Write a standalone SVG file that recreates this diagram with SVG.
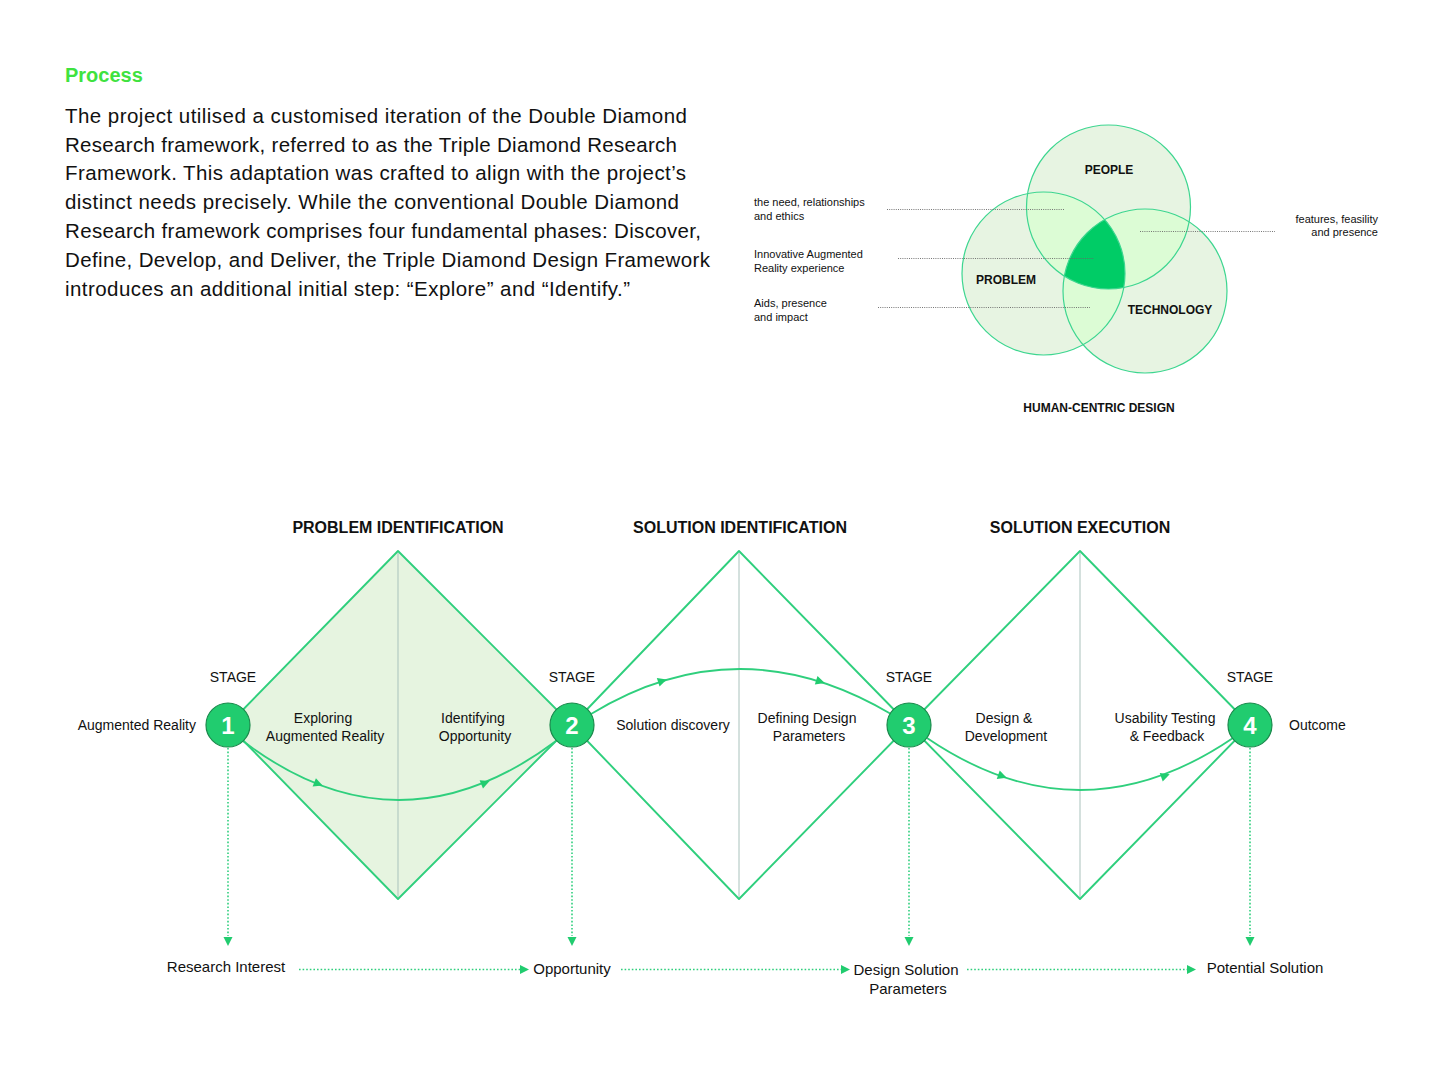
<svg xmlns="http://www.w3.org/2000/svg" width="1444" height="1083" viewBox="0 0 1444 1083">
<style>
text{font-family:"Liberation Sans",Arial,sans-serif;fill:#111;}
.body{font-size:20.5px;}
.lbl{font-size:14px;}
.hdr{font-size:16px;font-weight:bold;}
.vl{font-size:12px;font-weight:bold;}
.note{font-size:11px;}
.btm{font-size:15px;}
.num{font-size:24px;font-weight:bold;fill:#fff;}
.dia{fill:none;stroke:#2fcf7d;stroke-width:1.9;stroke-linejoin:round;}
.dia1{fill:#e6f4e0;}
.mid{stroke:#a9c2bc;stroke-width:1;}
.curve{fill:none;stroke:#2fcf7d;stroke-width:1.8;}
.stage{fill:#21cc6f;stroke:#1a8a4c;stroke-width:1.2;}
.dot{fill:none;stroke:#2fcf7d;stroke-width:1.6;stroke-dasharray:1.6 2;}
.lead{fill:none;stroke:#666;stroke-width:0.9;stroke-dasharray:1 1.2;}
.vring{fill:none;stroke:#3dd690;stroke-width:1.2;}
.head{fill:#21cc6f;}
</style>
<defs>
<path id="tri" d="M5,0 L-4,-4.5 L-4,4.5 Z"/>
<circle id="cA" cx="1108.5" cy="207" r="82"/>
<circle id="cB" cx="1043.5" cy="273.5" r="81.5"/>
<circle id="cC" cx="1145" cy="291" r="82"/>
<clipPath id="clA"><use href="#cA"/></clipPath>
<clipPath id="clB"><use href="#cB"/></clipPath>
<clipPath id="clC"><use href="#cC"/></clipPath>
</defs>
<rect width="1444" height="1083" fill="#fff"/>

<g id="intro">
<text x="65" y="82" style="font-size:20px;font-weight:bold;fill:#3fe23f">Process</text>
<text class="body" x="65" y="123" textLength="622">The project utilised a customised iteration of the Double Diamond</text>
<text class="body" x="65" y="152" textLength="612">Research framework, referred to as the Triple Diamond Research</text>
<text class="body" x="65" y="180" textLength="621">Framework. This adaptation was crafted to align with the project’s</text>
<text class="body" x="65" y="209" textLength="614">distinct needs precisely. While the conventional Double Diamond</text>
<text class="body" x="65" y="238" textLength="636">Research framework comprises four fundamental phases: Discover,</text>
<text class="body" x="65" y="267" textLength="645">Define, Develop, and Deliver, the Triple Diamond Design Framework</text>
<text class="body" x="65" y="296" textLength="565">introduces an additional initial step: “Explore” and “Identify.”</text>
</g>

<g id="venn">
<use href="#cA" fill="#e7f4e2"/>
<use href="#cB" fill="#e7f4e2"/>
<use href="#cC" fill="#e7f4e2"/>
<g clip-path="url(#clA)"><use href="#cB" fill="#dcfcd5"/><use href="#cC" fill="#dcfcd5"/></g>
<g clip-path="url(#clB)"><use href="#cC" fill="#dcfcd5"/></g>
<g clip-path="url(#clA)"><g clip-path="url(#clB)"><use href="#cC" fill="#00cc66"/></g></g>
<use href="#cA" class="vring"/>
<use href="#cB" class="vring"/>
<use href="#cC" class="vring"/>
<path class="lead" d="M887,209.5H1064M898,258.5H1094M878,307.5H1090M1140,231.5H1275"/>
<text class="vl" x="1109" y="174" text-anchor="middle">PEOPLE</text>
<text class="vl" x="1006" y="284" text-anchor="middle">PROBLEM</text>
<text class="vl" x="1170" y="314" text-anchor="middle">TECHNOLOGY</text>
<text class="vl" x="1099" y="412" text-anchor="middle">HUMAN-CENTRIC DESIGN</text>
<text class="note" x="754" y="206">the need, relationships</text>
<text class="note" x="754" y="220">and ethics</text>
<text class="note" x="754" y="258">Innovative Augmented</text>
<text class="note" x="754" y="272">Reality experience</text>
<text class="note" x="754" y="307">Aids, presence</text>
<text class="note" x="754" y="321">and impact</text>
<text class="note" x="1378" y="223" text-anchor="end">features, feasility</text>
<text class="note" x="1378" y="236" text-anchor="end">and presence</text>
</g>

<g id="diamond-1">
<path d="M228,725 L398,551 L572,725 L398,899 Z" class="dia dia1"/>
<line class="mid" x1="398" y1="553" x2="398" y2="897"/>
<text class="hdr" x="398" y="533" text-anchor="middle">PROBLEM IDENTIFICATION</text>
<text class="lbl" x="323" y="723" text-anchor="middle">Exploring</text>
<text class="lbl" x="325" y="741" text-anchor="middle">Augmented Reality</text>
<text class="lbl" x="473" y="723" text-anchor="middle">Identifying</text>
<text class="lbl" x="475" y="741" text-anchor="middle">Opportunity</text>
</g>
<g id="diamond-2">
<path d="M572,725 L739,551 L909,725 L739,899 Z" class="dia"/>
<line class="mid" x1="739" y1="553" x2="739" y2="897"/>
<text class="hdr" x="740" y="533" text-anchor="middle">SOLUTION IDENTIFICATION</text>
<text class="lbl" x="673" y="730" text-anchor="middle">Solution discovery</text>
<text class="lbl" x="807" y="723" text-anchor="middle">Defining Design</text>
<text class="lbl" x="809" y="741" text-anchor="middle">Parameters</text>
</g>
<g id="diamond-3">
<path d="M909,725 L1080,551 L1250,725 L1080,899 Z" class="dia"/>
<line class="mid" x1="1080" y1="553" x2="1080" y2="897"/>
<text class="hdr" x="1080" y="533" text-anchor="middle">SOLUTION EXECUTION</text>
<text class="lbl" x="1004" y="723" text-anchor="middle">Design &amp;</text>
<text class="lbl" x="1006" y="741" text-anchor="middle">Development</text>
<text class="lbl" x="1165" y="723" text-anchor="middle">Usability Testing</text>
<text class="lbl" x="1167" y="741" text-anchor="middle">&amp; Feedback</text>
</g>

<g id="connectors">
<path class="curve" d="M243,741 Q398,859 556,741"/>
<path class="curve" d="M591,714 Q739,624 891,714"/>
<path class="curve" d="M927,738 Q1080,842 1233,738"/>
<use href="#tri" class="head" transform="translate(318,783.8) rotate(21.4)"/>
<use href="#tri" class="head" transform="translate(485,782.9) rotate(-22)"/>
<use href="#tri" class="head" transform="translate(662,681) rotate(-17.4)"/>
<use href="#tri" class="head" transform="translate(820,681.5) rotate(17.2)"/>
<use href="#tri" class="head" transform="translate(1002,776) rotate(19.4)"/>
<use href="#tri" class="head" transform="translate(1165,776) rotate(-19.4)"/>
<path class="dot" d="M228,748V936M572,748V936M909,748V936M1250,748V936"/>
<use href="#tri" class="head" transform="translate(228,941) rotate(90)"/>
<use href="#tri" class="head" transform="translate(572,941) rotate(90)"/>
<use href="#tri" class="head" transform="translate(909,941) rotate(90)"/>
<use href="#tri" class="head" transform="translate(1250,941) rotate(90)"/>
<path class="dot" d="M299,969.5H522M621,969.5H843M967,969.5H1189"/>
<use href="#tri" class="head" transform="translate(524,969.5)"/>
<use href="#tri" class="head" transform="translate(845,969.5)"/>
<use href="#tri" class="head" transform="translate(1191,969.5)"/>
</g>

<g id="stage-1">
<text class="lbl" x="233" y="682" text-anchor="middle">STAGE</text>
<circle class="stage" cx="228" cy="725" r="22"/>
<text class="num" x="228" y="734" text-anchor="middle">1</text>
<text class="lbl" x="196" y="730" text-anchor="end">Augmented Reality</text>
</g>
<g id="stage-2">
<text class="lbl" x="572" y="682" text-anchor="middle">STAGE</text>
<circle class="stage" cx="572" cy="725" r="22"/>
<text class="num" x="572" y="734" text-anchor="middle">2</text>
</g>
<g id="stage-3">
<text class="lbl" x="909" y="682" text-anchor="middle">STAGE</text>
<circle class="stage" cx="909" cy="725" r="22"/>
<text class="num" x="909" y="734" text-anchor="middle">3</text>
</g>
<g id="stage-4">
<text class="lbl" x="1250" y="682" text-anchor="middle">STAGE</text>
<circle class="stage" cx="1250" cy="725" r="22"/>
<text class="num" x="1250" y="734" text-anchor="middle">4</text>
<text class="lbl" x="1289" y="730">Outcome</text>
</g>

<g id="out-1"><text class="btm" x="226" y="972" text-anchor="middle">Research Interest</text></g>
<g id="out-2"><text class="btm" x="572" y="974" text-anchor="middle">Opportunity</text></g>
<g id="out-3"><text class="btm" x="906" y="975" text-anchor="middle">Design Solution</text><text class="btm" x="908" y="994" text-anchor="middle">Parameters</text></g>
<g id="out-4"><text class="btm" x="1265" y="973" text-anchor="middle">Potential Solution</text></g>
</svg>
